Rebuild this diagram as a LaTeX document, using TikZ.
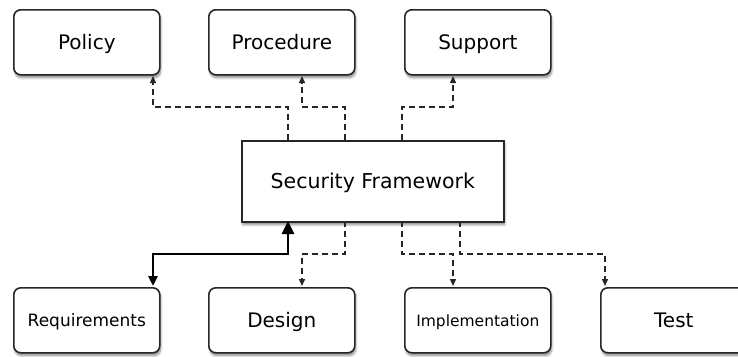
\documentclass[tikz,border=0pt]{standalone}
\usepackage{fontspec}
\setmainfont{DejaVu Sans}
\usetikzlibrary{arrows.meta,shadows.blur}
\begin{document}
\begin{tikzpicture}[x=1pt,y=-1pt,
  card/.style={draw=black!85, line width=1.6pt, fill=white, rounded corners=7pt,
    minimum width=146pt, minimum height=65pt, anchor=north west,
    text height=18pt, text depth=4pt, inner sep=0pt,
    blur shadow={shadow xshift=1pt, shadow yshift=-3pt, shadow blur steps=6, shadow opacity=45},
    font=\fontsize{20}{24}\selectfont},
  small/.style={text height=16pt, text depth=4pt},
  hub/.style={draw=black!85, line width=1.6pt, fill=white,
    minimum width=262pt, minimum height=81pt, anchor=north west,
    text height=18pt, text depth=4pt, inner sep=0pt,
    blur shadow={shadow xshift=1pt, shadow yshift=-3pt, shadow blur steps=6, shadow opacity=45},
    font=\fontsize{20.5}{24}\selectfont},
  link/.style={draw=black!85, line width=1.4pt, dash pattern=on 6pt off 4pt,
    -{Triangle[length=7pt,width=6pt]}},
  mainlink/.style={draw=black, line width=2.6pt,
    {Triangle[length=13pt,width=12pt]}-{Triangle[length=10pt,width=9pt]}}
]
\useasboundingbox (0,0) rectangle (738,356);

% upper row
\node[card] (policy) at (13,9) {Policy};
\node[card] (procedure) at (208,9) {Procedure};
\node[card] (support) at (404,9) {Support};

% central framework
\node[hub] (fw) at (241,140) {Security Framework};

% lower row
\node[card, small, font=\fontsize{17}{20}\selectfont] (req) at (13,287) {Requirements};
\node[card] (design) at (208,287) {Design};
\node[card, small, font=\fontsize{15.5}{18}\selectfont] (impl) at (404,287) {Implementation};
\node[card] (test) at (600,287) {Test};

% routing points on the framework outline
\coordinate (ta) at (288,140);
\coordinate (tb) at (345,140);
\coordinate (tc) at (402,140);
\coordinate (ba) at (288,221);
\coordinate (bb) at (345,221);
\coordinate (bc) at (402,221);
\coordinate (bd) at (460,221);

% upward links
\draw[link] (ta) |- (153,107) -- (153,76);
\draw[link] (tb) |- (302,107) -- (302,76);
\draw[link] (tc) |- (453,107) -- (453,76);

% downward links
\draw[mainlink] (ba) |- (153,254) -- (153,286);
\draw[link] (bb) |- (302,254) -- (302,286);
\draw[link] (bc) |- (453,254) -- (453,286);
\draw[link] (bd) |- (605,254) -- (605,286);
\end{tikzpicture}
\end{document}
